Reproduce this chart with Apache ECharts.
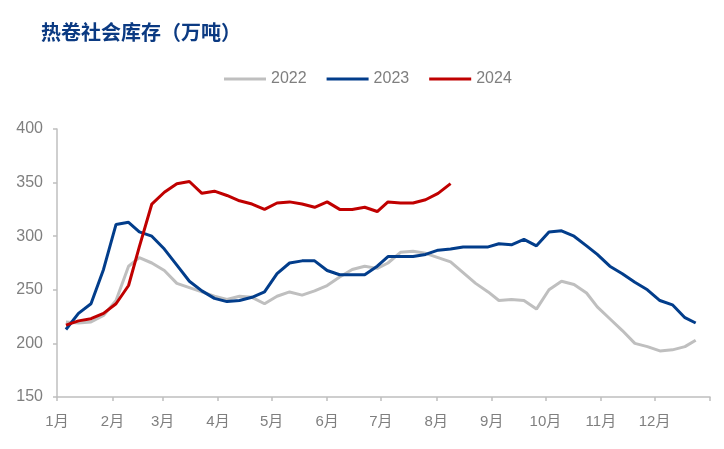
<!DOCTYPE html>
<html>
<head>
<meta charset="utf-8">
<script src="https://cdn.jsdelivr.net/npm/echarts@6/dist/echarts.min.js"></script>
<style>
html, body { margin: 0; padding: 0; background: #fff; }
#chart { width: 724px; height: 449px; }
</style>
</head>
<body>
<div id="chart"></div>
<script>
// 月份刻度
var monthLabels = ['1月','2月','3月','4月','5月','6月','7月','8月','9月','10月','11月','12月'];
var monthDays = [31,28,31,30,31,30,31,31,30,31,30,31];

// 每周数据对应的日序（一年中的第几天）
var weekDays = [5,12,19,26,33,40,46,53,60,67,74,81,88,95,102,109,116,123,130,137,144,151,158,165,172,179,
                185,192,199,206,213,220,227,234,241,247,254,261,268,275,282,289,296,302,309,316,323,330,337,344,351,357];

// 热卷社会库存（万吨）
var stock2022 = [220,219,220,226,240,272,280,275,268,256,252,248,244,241,244,243,237,244,248,245,249,254,262,269,272,270,
                 275,285,286,284,280,276,266,256,248,240,241,240,232,250,258,255,247,234,223,212,200,197,193,194,197,203];
var stock2023 = [213,228,237,269,311,313,304,300,288,273,258,249,242,239,240,243,248,265,275,277,277,268,264,264,264,272,
                 281,281,281,283,287,288,290,290,290,293,292,297,291,304,305,300,291,283,272,265,257,250,240,236,224,219];
var stock2024 = [217,221,223,228,237,254,290,330,341,349,351,340,342,338,333,330,325,331,332,330,327,332,325,325,327,323,
                 332,331,331,334,340,349];

// 横轴按天划分，月初位置打刻度
var monthStart = {};
var acc = 0;
for (var m = 0; m < monthDays.length; m++) {
    monthStart[acc] = monthLabels[m];
    acc += monthDays[m];
}
monthStart[acc] = '';
var dayCats = [];
for (var d = 0; d <= acc; d++) {
    dayCats.push(String(d));
}

function pairs(vals) {
    var out = [];
    for (var i = 0; i < vals.length; i++) {
        out.push([weekDays[i], vals[i]]);
    }
    return out;
}

var myChart = echarts.init(document.getElementById('chart'));

var option = {
    backgroundColor: '#fff',
    animation: false,
    title: {
        text: '热卷社会库存（万吨）',
        left: 36,
        top: 17,
        textStyle: {
            color: '#0b3a82',
            fontSize: 20,
            fontWeight: 'bold',
            fontFamily: 'Noto Sans CJK SC'
        }
    },
    legend: {
        left: 219,
        top: 66,
        icon: 'rect',
        itemWidth: 42,
        itemHeight: 3,
        itemGap: 20,
        textStyle: {
            color: '#7f7f7f',
            fontSize: 16,
            fontFamily: 'Liberation Sans'
        },
        data: ['2022', '2023', '2024']
    },
    grid: {
        left: 57,
        right: 14,
        top: 129,
        bottom: 52,
        containLabel: false
    },
    xAxis: {
        type: 'category',
        data: dayCats,
        boundaryGap: false,
        axisLine: { lineStyle: { color: '#bfbfbf', width: 1.5 } },
        axisTick: {
            length: 4,
            lineStyle: { color: '#bfbfbf', width: 1.5 },
            interval: function (index) { return monthStart.hasOwnProperty(index); }
        },
        axisLabel: {
            interval: function (index) { return monthStart.hasOwnProperty(index); },
            formatter: function (value) { return monthStart[Number(value)] || ''; },
            color: '#7f7f7f',
            fontSize: 15,
            margin: 17,
            fontFamily: 'Liberation Sans, Noto Sans CJK SC'
        },
        splitLine: { show: false }
    },
    yAxis: {
        type: 'value',
        min: 150,
        max: 400,
        interval: 50,
        axisLine: { show: true, lineStyle: { color: '#bfbfbf', width: 1.5 } },
        axisTick: { show: true, length: 4, lineStyle: { color: '#bfbfbf', width: 1.5 } },
        axisLabel: {
            color: '#7f7f7f',
            fontSize: 16,
            margin: 14,
            fontFamily: 'Liberation Sans'
        },
        splitLine: { show: false }
    },
    series: [
        {
            name: '2022',
            type: 'line',
            showSymbol: false,
            color: '#bfbfbf',
            lineStyle: { width: 3 },
            data: pairs(stock2022)
        },
        {
            name: '2023',
            type: 'line',
            showSymbol: false,
            color: '#023d8b',
            lineStyle: { width: 3 },
            data: pairs(stock2023)
        },
        {
            name: '2024',
            type: 'line',
            showSymbol: false,
            color: '#c00000',
            lineStyle: { width: 3 },
            data: pairs(stock2024)
        }
    ]
};

myChart.setOption(option);
</script>
</body>
</html>
